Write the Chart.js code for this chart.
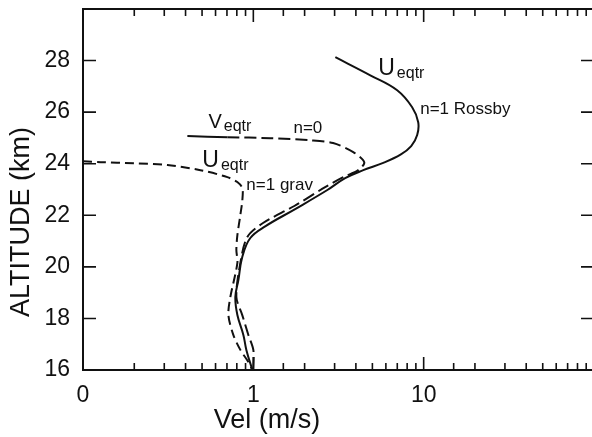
<!DOCTYPE html>
<html>
<head>
<meta charset="utf-8">
<script src="https://cdn.jsdelivr.net/npm/chart.js@4"></script>
<style>
    html, body { margin: 0; padding: 0; background: #fff; overflow: hidden; }
    #wrap { width: 600px; height: 437px; }
</style>
</head>
<body>
<div id="wrap"><canvas id="velChart" width="600" height="437"></canvas></div>
<script>
// velocity (m/s, log axis) vs altitude (km)
const rossbyVel = [3.03, 4.86, 6.99, 8.56, 9.29, 9.16, 8.45, 7.35, 5.79, 4.42, 3.46, 2.72, 1.76, 1.18, 0.96, 0.861, 0.817, 0.784, 0.806, 0.874, 0.910, 0.987];
const rossbyAlt = [28.13, 27.43, 26.85, 26.19, 25.61, 25.11, 24.68, 24.36, 24.03, 23.75, 23.44, 22.98, 22.24, 21.58, 21.12, 20.38, 19.49, 18.83, 18.13, 17.36, 16.78, 16.0];

const kelvinVel = [0.410, 0.704, 1.26, 2.16, 2.94, 3.86, 4.48, 4.13, 3.37, 2.64, 1.74, 1.14, 0.922, 0.839, 0.795, 0.861, 0.935, 1.0, 1.0];
const kelvinAlt = [25.07, 25.03, 24.99, 24.91, 24.80, 24.45, 24.06, 23.75, 23.48, 23.09, 22.36, 21.70, 21.16, 20.15, 18.83, 18.13, 17.36, 16.78, 16.0];

const gravVel = [0.1, 0.127, 0.198, 0.313, 0.489, 0.704, 0.805, 0.862, 0.862, 0.839, 0.806, 0.795, 0.806, 0.733, 0.714, 0.763, 0.839, 0.935, 0.987];
const gravAlt = [24.10, 24.06, 24.02, 23.95, 23.75, 23.48, 23.29, 23.05, 22.59, 22.01, 21.23, 20.65, 20.15, 18.83, 18.13, 17.36, 16.78, 16.31, 16.0];

const xLabels = { '0.1': '0', '1': '1', '10': '10' };
const altMin = 16, altMax = 30, velMin = 0.1, velMax = 100;

// curve labels: [text, subscript, vel, alt, size]
const curveNotes = [
    ['U', 'eqtr', 5.41, 27.43, 23],
    ['n=1 Rossby', '', 9.54, 25.92, 17],
    ['V', 'eqtr', 0.545, 25.38, 20],
    ['n=0', '', 1.72, 25.19, 17],
    ['U', 'eqtr', 0.502, 23.87, 23],
    ['n=1 grav', '', 0.910, 22.98, 17]
];

const FONT = "'Liberation Sans', Arial, sans-serif";
const toPts = (xs, ys) => xs.map((v, i) => ({ x: v, y: ys[i] }));
const isDecade = v => Math.abs(Math.log10(v) - Math.round(Math.log10(v))) < 1e-6;

const frameTicks = {
    id: 'frameTicks',
    afterDatasetsDraw(chart) {
        const { ctx, chartArea: a, scales: { x, y } } = chart;
        ctx.save();
        ctx.strokeStyle = '#111';
        ctx.lineWidth = 2;
        ctx.strokeRect(a.left, a.top, a.right - a.left, a.bottom - a.top);
        ctx.lineWidth = 1.6;
        ctx.beginPath();
        x.ticks.forEach(t => {
            const px = x.getPixelForValue(t.value);
            const len = isDecade(t.value) ? 13 : 7;
            ctx.moveTo(px, a.bottom); ctx.lineTo(px, a.bottom - len);
            ctx.moveTo(px, a.top); ctx.lineTo(px, a.top + len);
        });
        y.ticks.forEach(t => {
            const py = y.getPixelForValue(t.value);
            const len = t.value % 2 === 0 ? 13 : 8;
            ctx.moveTo(a.left, py); ctx.lineTo(a.left + len, py);
            ctx.moveTo(a.right, py); ctx.lineTo(a.right - len, py);
        });
        ctx.stroke();

        // curve labels
        ctx.fillStyle = '#111';
        ctx.textBaseline = 'alphabetic';
        curveNotes.forEach(([txt, sub, vx, vy, size]) => {
            const px = x.getPixelForValue(vx);
            const py = y.getPixelForValue(vy);
            ctx.font = size + 'px ' + FONT;
            ctx.fillText(txt, px, py);
            if (sub) {
                const w = ctx.measureText(txt).width;
                ctx.font = '16px ' + FONT;
                ctx.fillText(sub, px + w + 2, py + 3);
            }
        });

        // axis titles
        ctx.font = '27px ' + FONT;
        ctx.textAlign = 'center';
        ctx.textBaseline = 'middle';
        ctx.fillText('Vel (m/s)', 267, 421);
        ctx.translate(22, 222);
        ctx.rotate(-Math.PI / 2);
        ctx.fillText('ALTITUDE (km)', 0, 0);
        ctx.restore();
    }
};

const line = (data, dash, tension) => ({
    data,
    borderColor: '#111',
    borderWidth: 2,
    borderDash: dash,
    pointRadius: 0,
    tension,
    fill: false
});

const kelvinSet = line(toPts(kelvinVel, kelvinAlt), [12, 5], 0.3);
kelvinSet.segment = { borderDash: c => c.p0DataIndex === 0 ? [] : [12, 5] };

new Chart(document.getElementById('velChart'), {
    type: 'line',
    data: {
        datasets: [
            line(toPts(rossbyVel, rossbyAlt), [], 0.4),
            kelvinSet,
            line(toPts(gravVel, gravAlt), [9, 5], 0.3)
        ]
    },
    options: {
        responsive: false,
        animation: false,
        layout: { padding: { top: 9, right: 6, left: 0, bottom: 0 } },
        plugins: { legend: { display: false }, tooltip: { enabled: false } },
        scales: {
            x: {
                type: 'logarithmic',
                min: velMin, max: velMax,
                grid: { display: false },
                border: { display: false },
                afterFit: s => { s.height = 67; s.paddingLeft = 0; s.paddingRight = 0; },
                ticks: {
                    autoSkip: false, maxRotation: 0, padding: 4,
                    color: '#111', font: { family: FONT, size: 23 },
                    callback: v => xLabels[String(+v.toPrecision(6))] || ''
                }
            },
            y: {
                min: altMin, max: altMax,
                grid: { display: false },
                border: { display: false },
                afterFit: s => { s.width = 83; s.paddingTop = 0; s.paddingBottom = 0; },
                ticks: {
                    stepSize: 1, padding: 5,
                    color: '#111', font: { family: FONT, size: 23 },
                    callback: v => (v % 2 === 0 && v < altMax) ? v : ''
                }
            }
        }
    },
    plugins: [frameTicks]
});
</script>
</body>
</html>
